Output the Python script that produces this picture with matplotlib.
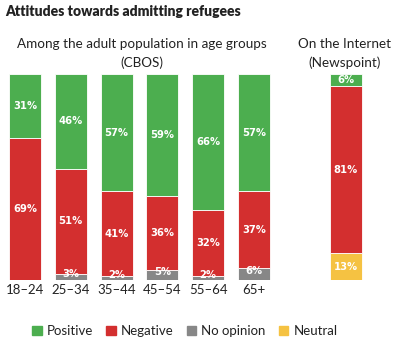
import matplotlib
matplotlib.use("Agg")
import matplotlib.pyplot as plt
from matplotlib.patches import Patch

plt.rcParams['font.family'] = ['Lato', 'DejaVu Sans']

age_groups = ["18–24", "25–34", "35–44", "45–54", "55–64", "65+"]
positive = [31, 46, 57, 59, 66, 57]
negative = [69, 51, 41, 36, 32, 37]
no_opinion = [0, 3, 2, 5, 2, 6]

internet_positive = [6]
internet_negative = [81]
internet_neutral = [13]

series_names = ["Positive", "Negative", "No opinion", "Neutral"]

GREEN = "#4cae4f"
RED = "#d32f2f"
GRAY = "#878787"
YELLOW = "#f5c242"
TXT = "#222222"

fig = plt.figure(figsize=(4.0, 3.46), dpi=100)
ax = fig.add_axes([0, 66/346, 1, 206/346])
ax.set_xlim(-25/45.8, 375/45.8)
ax.set_ylim(0, 100)
ax.axis('off')

x_left = list(range(len(age_groups)))
w = 0.7
ew = 0.6
ax.bar(x_left, no_opinion, width=w, color=GRAY, edgecolor='white', linewidth=ew)
ax.bar(x_left, negative, bottom=no_opinion, width=w, color=RED, edgecolor='white', linewidth=ew)
bot3 = [a + b for a, b in zip(no_opinion, negative)]
ax.bar(x_left, positive, bottom=bot3, width=w, color=GREEN, edgecolor='white', linewidth=ew)

xr = [7]
ax.bar(xr, internet_neutral, width=w, color=YELLOW, edgecolor='white', linewidth=ew)
ax.bar(xr, internet_negative, bottom=internet_neutral, width=w, color=RED, edgecolor='white', linewidth=ew)
ax.bar(xr, internet_positive, bottom=[internet_neutral[0] + internet_negative[0]], width=w,
       color=GREEN, edgecolor='white', linewidth=ew)

lab = dict(color='white', fontsize=7.2, fontweight='bold', ha='center', va='center',
           family=['DejaVu Sans'])
for i in x_left:
    if no_opinion[i] > 0:
        ax.text(i, no_opinion[i] / 2 + 1.2, f"{no_opinion[i]}%", **lab)
    ax.text(i, no_opinion[i] + negative[i] / 2, f"{negative[i]}%", **lab)
    ax.text(i, bot3[i] + positive[i] / 2, f"{positive[i]}%", **lab)
    ax.text(i, -5, age_groups[i], color=TXT, fontsize=9.5, ha='center', va='center')

ax.text(7, internet_neutral[0] / 2, f"{internet_neutral[0]}%", **lab)
ax.text(7, internet_neutral[0] + internet_negative[0] / 2, f"{internet_negative[0]}%", **lab)
ax.text(7, internet_neutral[0] + internet_negative[0] + internet_positive[0] / 2,
        f"{internet_positive[0]}%", **lab)

fig.text(5/400, 1 - 11/346, "Attitudes towards admitting refugees", fontsize=10,
         fontweight='heavy', color=TXT, ha='left', va='center')
fig.text(142/400, 1 - 44/346, "Among the adult population in age groups", fontsize=9.7,
         color=TXT, ha='center', va='center')
fig.text(142/400, 1 - 63/346, "(CBOS)", fontsize=9.7, color=TXT, ha='center', va='center')
fig.text(345/400, 1 - 44/346, "On the Internet", fontsize=9.7, color=TXT, ha='center', va='center')
fig.text(345/400, 1 - 63/346, "(Newspoint)", fontsize=9.7, color=TXT, ha='center', va='center')

handles = [Patch(color=c) for c in (GREEN, RED, GRAY, YELLOW)]
fig.legend(handles, series_names, loc='center', bbox_to_anchor=(185/400, 15/346), ncol=4,
           frameon=False, fontsize=9.5, handlelength=0.7, handleheight=0.7, handletextpad=0.4,
           columnspacing=1.0, labelcolor=TXT)

fig.savefig("out.png", dpi=100)
